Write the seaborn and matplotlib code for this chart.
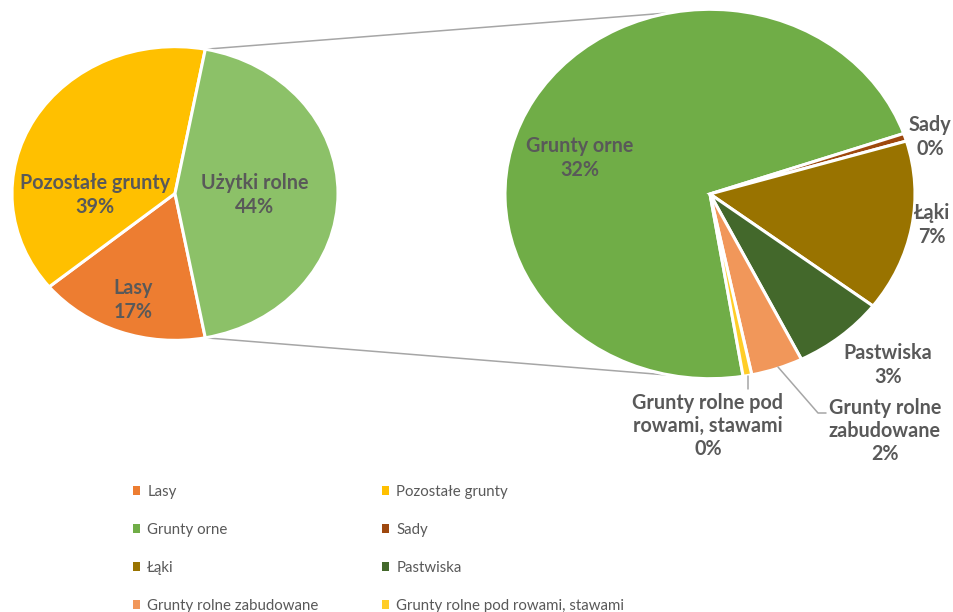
import matplotlib
matplotlib.use("Agg")
import matplotlib.pyplot as plt
import seaborn as sns
import numpy as np
from matplotlib.patches import Patch

# Land-use structure (% of total area)
main_labels = ["Lasy", "Pozostałe grunty", "Użytki rolne"]
main_values = [17.0, 38.9]
sub_labels = ["Grunty orne", "Sady", "Łąki", "Pastwiska",
              "Grunty rolne zabudowane", "Grunty rolne pod rowami, stawami"]
sub_text = ["Grunty orne", "Sady", "Łąki", "Pastwiska",
            "Grunty rolne\nzabudowane", "Grunty rolne pod\nrowami, stawami"]
sub_values = [31.8, 0.3, 6.6, 3.2, 1.8, 0.3]

main_colors = ["#ED7D31", "#FFC000", "#8CC168"]
sub_colors = ["#70AD47", "#9E480E", "#997300", "#43682B", "#F1975A", "#FFCD28"]

sns.set_theme(style="white")
plt.rcParams["font.family"] = ["Lato", "DejaVu Sans"]

W, H = 954, 612
SY = 1.11  # vertical squeeze of the pies
TXT = "#595959"
LINE = "#A6A6A6"

fig = plt.figure(figsize=(W / 100, H / 100), dpi=100)
ax = fig.add_axes([0, 0, 1, 1])


def P(x, y):
    """pixel position -> data coordinates"""
    return x, (H - y) * SY


agri = sum(sub_values)
left_vals = main_values + [agri]
total = sum(left_vals)

wedge_kw = dict(edgecolor="white", linewidth=2.2)

# primary pie: agricultural slice centred on the right-hand side
left_start = agri / total * 180 + sum(main_values) / total * 360
lw, _ = ax.pie(left_vals, colors=main_colors, startangle=left_start,
               counterclock=False, center=P(175, 193.5), radius=163,
               wedgeprops=wedge_kw, frame=True)

# secondary pie: breakdown of agricultural land
rw, _ = ax.pie(sub_values, colors=sub_colors, startangle=279.3,
               counterclock=False, center=P(710, 194), radius=205,
               wedgeprops=wedge_kw, frame=True)

# connector lines between the pies
lc = np.array(P(175, 193.5))
rc = np.array(P(710, 194))
ag = lw[2]
for a_left, a_right in [(ag.theta2, 101), (ag.theta1, -101)]:
    p1 = lc + 163 * np.array([np.cos(np.radians(a_left)), np.sin(np.radians(a_left))])
    p2 = rc + 205 * np.array([np.cos(np.radians(a_right)), np.sin(np.radians(a_right))])
    ax.plot([p1[0], p2[0]], [p1[1], p2[1]], color=LINE, lw=1.1, zorder=0)

lab_kw = dict(ha="center", va="center", fontsize=14.2, fontweight="bold",
              color=TXT, linespacing=1.2)

main_pos = [(133, 300), (95, 195), (255, 195)]
for name, v, pos in zip(main_labels, left_vals, main_pos):
    ax.text(*P(*pos), f"{name}\n{v / total * 100:.0f}%", **lab_kw)

sub_pos = [(580, 158), (930, 137), (932, 225), (888, 365), (885, 431), (708, 426)]
for name, v, pos in zip(sub_text, sub_values, sub_pos):
    ax.text(*P(*pos), f"{name}\n{v / total * 100:.0f}%", **lab_kw)

# leader lines for the small slices
for pts in [[(748, 376), (748, 389)], [(778, 367), (818, 413), (826, 413)]]:
    xs, ys = zip(*[P(*p) for p in pts])
    ax.plot(xs, ys, color=LINE, lw=1.1)

ax.set_xlim(0, W)
ax.set_ylim(0, H * SY)
ax.set_aspect("auto")
ax.axis("off")

# legend in two columns, row-major order
all_labels = main_labels[:2] + sub_labels
all_colors = main_colors[:2] + sub_colors
handles = [Patch(facecolor=c, edgecolor="none", label=l) for l, c in zip(all_labels, all_colors)]
leg_kw = dict(frameon=False, fontsize=10.8, labelcolor=TXT, handlelength=0.5,
              handleheight=0.5, handletextpad=0.45, labelspacing=1.6,
              borderpad=0, borderaxespad=0, loc="upper left")
leg1 = ax.legend(handles=handles[0::2], bbox_to_anchor=(133 / W, 1 - 485 / H), **leg_kw)
ax.add_artist(leg1)
ax.legend(handles=handles[1::2], bbox_to_anchor=(382 / W, 1 - 485 / H), **leg_kw)

fig.savefig("out.png", dpi=100)
